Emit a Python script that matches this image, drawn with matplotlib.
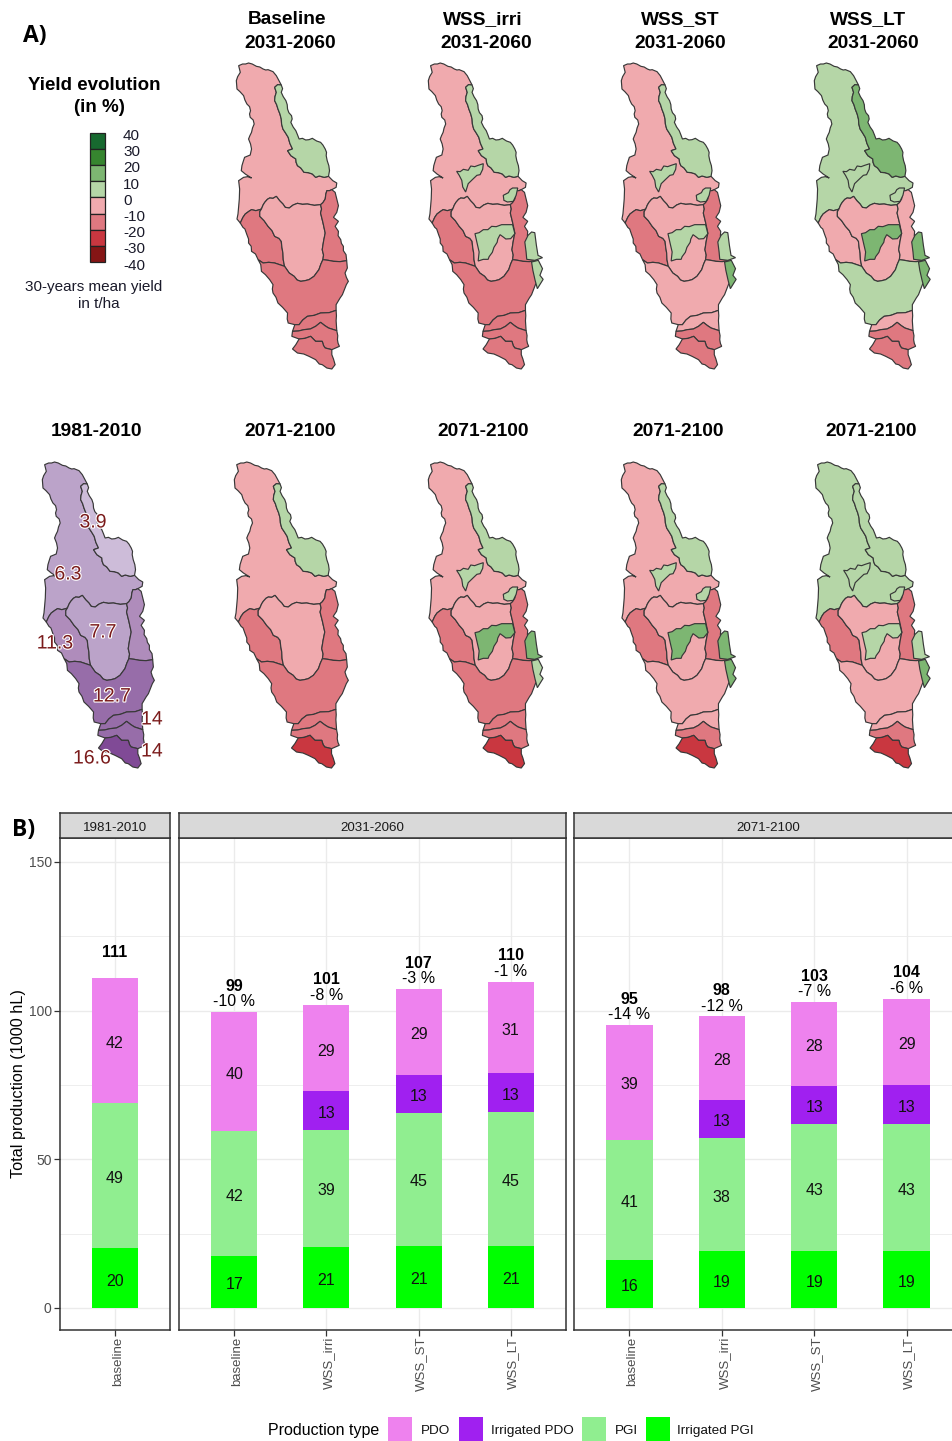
import matplotlib
matplotlib.use("Agg")
import matplotlib.pyplot as plt
import matplotlib.patheffects as pe
from matplotlib.patches import Polygon, Rectangle
from matplotlib.transforms import ScaledTranslation
import numpy as np

plt.rcParams["font.family"] = ["Liberation Sans", "DejaVu Sans"]

W, H = 952, 1441

# ---- bar chart data (1000 hL) ----
types = ["PDO", "Irrigated PDO", "PGI", "Irrigated PGI"]
type_colors = ["#EE82EE", "#A020F0", "#90EE90", "#00FF00"]

periods = ["1981-2010", "2031-2060", "2071-2100"]
scen_hist = ["baseline"]
scen_fut = ["baseline", "WSS_irri", "WSS_ST", "WSS_LT"]

irr_pgi_hist = [20]
pgi_hist = [49]
irr_pdo_hist = [0]
pdo_hist = [42]
total_hist = [111]

irr_pgi_2031 = [17.4, 20.6, 21, 21]
pgi_2031 = [42, 39.4, 44.7, 45]
irr_pdo_2031 = [0, 12.8, 12.6, 13]
pdo_2031 = [40, 28.9, 29, 30.7]
total_2031 = [99, 101, 107, 110]
pct_2031 = [-10, -8, -3, -1]

irr_pgi_2071 = [16, 19, 19, 19]
pgi_2071 = [40.6, 38, 43, 43]
irr_pdo_2071 = [0, 13, 12.6, 13]
pdo_2071 = [38.6, 28, 28.2, 29]
total_2071 = [95, 98, 103, 104]
pct_2071 = [-14, -12, -7, -6]

# ---- map data: catchment borders, shared between neighbouring zones ----
b_ne_outer = [(983,467),(986,450),(984,435),(979,420),(976,405),(977,395),(973,385),(966,373),(959,365),(947,361),(934,353),(924,357),(914,358),(904,353),(894,355),(889,342),(884,330),(876,319),(869,305),(873,295),(871,285),(863,276),(859,265),(858,252),(854,240),(846,228),(840,215),(844,204),(840,193)]
b_ne_west = [(840,193),(829,192),(820,200),(825,215),(821,228),(820,240),(826,252),(830,265),(836,280),(840,295),(841,310),(845,325),(853,337),(861,350),(866,368),(874,385),(859,390),(869,405),(884,415),(885,425),(889,435),(899,442),(909,455),(922,456),(934,460),(944,470),(955,466),(970,470),(983,467)]
b_north_outer = [(840,193),(832,178),(825,165),(815,153),(800,147),(793,148),(785,145),(775,139),(765,137),(752,130),(741,127),(732,130),(723,130),(711,135),(716,155),(708,168),(704,180),(706,205),(715,213),(726,225),(730,238),(736,250),(744,258),(747,270),(744,280),(746,290),(755,298),(758,310),(753,322),(750,335),(745,345),(741,355),(747,370),(750,385),(746,403),(729,410),(725,422),(721,435),(719,450),(731,460),(750,472),(738,468),(726,470),(711,480),(714,505),(713,535),(711,558),(709,580),(706,595),(716,607)]
b_north_west = [(716,607),(724,590),(731,580),(742,572),(750,567),(763,570),(775,567),(780,565)]
b_center_top = [(780,565),(785,553),(790,545),(798,536),(805,532),(815,533),(825,527),(835,540),(845,550),(852,560),(864,562),(876,553),(889,548),(904,551),(919,550),(940,554),(959,552)]
b_east_top = [(959,552),(966,546),(973,535),(975,520),(978,510),(986,510),(993,507)]
b_tip = [(993,507),(1006,500),(1008,487),(996,480),(983,467)]
b_west_outer = [(716,607),(724,620),(730,625),(736,642),(741,655),(741,667),(749,677),(750,692),(762,700),(770,717)]
b_west_center = [(780,565),(775,573),(775,587),(788,600),(800,617),(812,630),(820,647),(833,653),(840,662),(842,680),(845,697),(846,717),(850,737)]
b_west_south = [(770,717),(785,727),(802,725),(820,727),(835,732),(850,737)]
b_center_south = [(850,737),(864,757),(879,767),(888,778),(899,782),(912,780),(924,777),(939,767),(954,747),(960,730),(966,717)]
b_center_east = [(959,552),(962,565),(959,577),(966,605),(973,637),(968,662),(964,687),(968,703),(966,717)]
b_east_south = [(966,717),(982,719),(998,722),(1018,723),(1038,720)]
b_east_outer = [(1038,720),(1036,702),(1028,690),(1028,677),(1022,668),(1020,657),(1012,645),(1013,632),(1003,617),(1013,602),(998,590),(1008,575),(1013,555),(1008,535),(1003,515),(993,507)]
b_south_outer_w = [(770,717),(778,732),(780,752),(792,762),(805,777),(815,792),(813,805),(815,817),(824,830),(830,847),(844,860),(859,877),(858,895),(861,907)]
b_south_lower = [(861,907),(881,912)]
b_south_outer_e = [(1006,869),(1006,852),(1018,832),(1025,822),(1033,802),(1037,792),(1043,782),(1037,770),(1033,757),(1040,742),(1038,720)]
b_south_b1 = [(881,912),(894,912),(905,898),(919,887),(940,884),(959,877),(985,876),(1006,869)]
b_b1_w = [(881,912),(874,932)]
b_b1_e = [(1008,930),(1007,915),(1006,900),(1007,885),(1006,869)]
b_b1_b2 = [(874,932),(892,931),(909,927),(928,925),(944,917),(959,905),(972,915),(983,922),(1008,930)]
b_b2_w = [(874,932),(872,947),(894,955)]
b_b2_e = [(993,987),(1016,977),(1012,968),(1010,957),(1011,945),(1008,930)]
b_b2_bottom = [(894,955),(912,953),(929,947),(944,962),(964,962),(968,975),(973,982),(993,987)]
b_bottom_outer = [(894,955),(884,972),(874,985),(889,997),(908,1000),(924,1007),(944,1017),(955,1030),(964,1032),(978,1042),(993,1045),(1003,1032),(998,1015),(993,1002),(993,987)]


def ring(*parts):
    pts = []
    for p in parts:
        pts += p
    return pts


def rev(p):
    return p[::-1]


zones = {
    "north": ring(b_north_outer, b_north_west, b_center_top, b_east_top, b_tip, rev(b_ne_west)),
    "ne": ring(b_ne_west, b_ne_outer),
    "west": ring(b_west_outer, b_west_south, rev(b_west_center), rev(b_north_west)),
    "center": ring(b_center_top, b_center_east, rev(b_center_south), rev(b_west_center)),
    "east": ring(b_center_east, b_east_south, b_east_outer, rev(b_east_top)),
    "south": ring(b_south_outer_w, b_south_lower, b_south_b1, b_south_outer_e, rev(b_east_south), rev(b_center_south), rev(b_west_south)),
    "b1": ring(b_south_b1, rev(b_b1_e), rev(b_b1_b2), rev(b_b1_w)),
    "b2": ring(b_b1_b2, rev(b_b2_e), rev(b_b2_bottom), rev(b_b2_w)),
    "bottom": ring(b_bottom_outer, rev(b_b2_bottom)),
}
zone_names = list(zones)

# irrigated sub-zones, only drawn in the WSS panels
patches = {
    "A": [(792,452),(803,453),(813,446),(828,449),(836,436),(848,438),(859,434),(875,429),(873,446),(865,462),(855,464),(844,474),(828,489),(820,514),(811,499),(808,479),(800,464)],
    "B": [(937,524),(953,516),(958,507),(966,502),(982,502),(977,524),(968,542),(950,544),(939,539)],
    "C": [(849,639),(862,636),(875,627),(889,627),(901,617),(915,618),(932,612),(966,612),(973,639),(960,654),(945,655),(937,649),(927,642),(920,655),(918,665),(908,680),(903,695),(893,708),(890,716),(875,716),(859,721),(862,694),(856,669)],
    "D": [(1004,664),(1014,644),(1025,634),(1035,636),(1040,674),(1045,704),(1059,711),(1035,719),(1010,716),(1008,694)],
    "E": [(1025,724),(1046,719),(1059,744),(1051,764),(1061,776),(1043,804),(1036,779),(1029,749)],
}
patch_names = list(patches)

# yield change classes in % (class centre) per zone: north ne west center east south b1 b2 bottom
base_31 = [-5, 5, -15, -5, -15, -15, -15, -15, -15]
irri_31 = [-5, 5, -15, -5, -15, -15, -15, -15, -15]
st_31 = [-5, 5, -15, -5, -15, -5, -5, -15, -15]
lt_31 = [5, 15, -5, -5, -5, 5, -5, -15, -15]
base_71 = [-5, 5, -15, -5, -15, -15, -15, -15, -25]
irri_71 = [-5, 5, -15, -5, -15, -15, -15, -15, -25]
st_71 = [-5, 5, -15, -5, -15, -5, -5, -15, -25]
lt_71 = [5, 5, -15, -5, -15, -5, -5, -15, -25]

# same classes for sub-zones A B C D E
irri_31_p = [5, 5, 5, 5, 5]
st_31_p = [5, 5, 5, 5, 15]
lt_31_p = [5, 5, 15, 15, 15]
irri_71_p = [5, 5, 15, 15, 5]
st_71_p = [5, 5, 15, 15, 15]
lt_71_p = [5, 5, 5, 5, 15]

# observed yield 1981-2010, t/ha
yield_colors = ["#BBA3C9", "#CDBCD9", "#AF8CBB", "#BBA3C9", "#AF8CBB", "#976DA9", "#976DA9", "#976DA9", "#804A96"]
yield_labels = ["3.9", "6.3", "11.3", "7.7", "12.7", "14", "14", "16.6"]
yield_label_x = [93, 68, 55, 103, 112, 152, 152, 92]
yield_label_y = [521, 573, 642, 631, 695, 718, 750, 757]

class_levels = [35, 25, 15, 5, -5, -15, -25, -35]
class_colors = ["#17692F", "#36852F", "#7DB672", "#B5D6A7", "#F0AAAE", "#DF7880", "#C93740", "#851515"]
color_of = dict(zip(class_levels, class_colors))
scale_ticks = [40, 30, 20, 10, 0, -10, -20, -30, -40]

titles_top = ["Baseline\n2031-2060", "WSS_irri\n2031-2060", "WSS_ST\n2031-2060", "WSS_LT\n2031-2060"]
titles_bottom = ["1981-2010", "2071-2100", "2071-2100", "2071-2100", "2071-2100"]


def px_axes(fig, left, top, right, bottom):
    return fig.add_axes([left / W, 1 - bottom / H, (right - left) / W, (bottom - top) / H])


fig = plt.figure(figsize=(W / 100, H / 100), dpi=100)


def draw_map(left, right, top, colors, patch_colors=None):
    ax = px_axes(fig, left, top, right, top + 306)
    ax.set_xlim(703, 1045)
    ax.set_ylim(1045, 127)
    ax.axis("off")
    for name, c in zip(zone_names, colors):
        ax.add_patch(Polygon(zones[name], closed=True, fc=c, ec="#383838", lw=0.85, clip_on=False))
    if patch_colors is not None:
        for name, c in zip(patch_names, patch_colors):
            ax.add_patch(Polygon(patches[name], closed=True, fc=c, ec="#383838", lw=0.85, clip_on=False))


def classes(levels):
    return [color_of[v] for v in levels]


draw_map(236, 349, 63, classes(base_31))
draw_map(428, 538, 63, classes(irri_31), classes(irri_31_p))
draw_map(621, 731, 63, classes(st_31), classes(st_31_p))
draw_map(814, 925, 63, classes(lt_31), classes(lt_31_p))
draw_map(42, 155, 462, yield_colors)
draw_map(234, 349, 462, classes(base_71))
draw_map(428, 538, 462, classes(irri_71), classes(irri_71_p))
draw_map(621, 731, 462, classes(st_71), classes(st_71_p))
draw_map(815, 925, 462, classes(lt_71), classes(lt_71_p))


def draw_panel(left, right, scen, irr_pgi, pgi, irr_pdo, pdo, total, pct, period, first=False):
    ax = px_axes(fig, left, 838, right, 1330)
    x = np.arange(1, len(scen) + 1)
    ax.set_xlim(0.4, len(scen) + 0.6)
    ax.set_ylim(-7.4, 158)
    ax.set_axisbelow(True)
    ax.set_yticks([0, 50, 100, 150])
    ax.set_yticks([25, 75, 125], minor=True)
    ax.grid(True, which="major", color="#EBEBEB", lw=1.0)
    ax.grid(True, which="minor", axis="y", color="#EBEBEB", lw=0.6)
    ax.tick_params(which="minor", length=0)
    ax.set_xticks(x)
    ax.set_xticklabels(scen, rotation=90, fontsize=9.5, color="#4D4D4D")
    ax.tick_params(axis="x", color="#333333", length=4, width=0.9, pad=1)
    shift = ScaledTranslation(2 / 72, 0, fig.dpi_scale_trans)
    for lab in ax.get_xticklabels():
        lab.set_transform(lab.get_transform() + shift)
    if first:
        ax.tick_params(axis="y", labelsize=10, labelcolor="#4D4D4D", color="#333333", length=4, width=0.9, pad=2)
        ax.set_ylabel("Total production (1000 hL)", fontsize=11.7, labelpad=2)
    else:
        ax.tick_params(axis="y", length=0, labelleft=False)
    for s in ax.spines.values():
        s.set_color("#333333")
        s.set_linewidth(1.1)

    bottom = np.zeros(len(scen))
    for vals, col in zip([irr_pgi, pgi, irr_pdo, pdo], type_colors[::-1]):
        vals = np.array(vals, dtype=float)
        ax.bar(x, vals, 0.5, bottom=bottom, color=col)
        for xi, b, v in zip(x, bottom, vals):
            if v > 0:
                ax.annotate(f"{v:.0f}", (xi, b + v / 2), xytext=(0, -2), textcoords="offset points",
                            ha="center", va="center", fontsize=11.5, color="#111111")
        bottom += vals

    for i, xi in enumerate(x):
        if pct is None:
            ax.annotate(f"{total[i]}", (xi, bottom[i]), xytext=(0, 18), textcoords="offset points",
                        ha="center", va="center", fontsize=11.5, fontweight="bold")
        else:
            ax.annotate(f"{total[i]}", (xi, bottom[i]), xytext=(0, 18.5), textcoords="offset points",
                        ha="center", va="center", fontsize=11.5, fontweight="bold")
            ax.annotate(f"{pct[i]} %", (xi, bottom[i]), xytext=(0, 7.5), textcoords="offset points",
                        ha="center", va="center", fontsize=11.5)

    st = px_axes(fig, left, 813, right, 838)
    st.set_facecolor("#D9D9D9")
    st.set_xticks([])
    st.set_yticks([])
    for s in st.spines.values():
        s.set_color("#333333")
        s.set_linewidth(1.1)
    st.text(0.5, 0.40, period, transform=st.transAxes, ha="center", va="center", fontsize=9.6, color="#1A1A1A")


draw_panel(60, 170, scen_hist, irr_pgi_hist, pgi_hist, irr_pdo_hist, pdo_hist, total_hist, None, periods[0], first=True)
draw_panel(179, 566, scen_fut, irr_pgi_2031, pgi_2031, irr_pdo_2031, pdo_2031, total_2031, pct_2031, periods[1])
draw_panel(574, 962, scen_fut, irr_pgi_2071, pgi_2071, irr_pdo_2071, pdo_2071, total_2071, pct_2071, periods[2])

# overlay in pixels for titles and legends
ov = fig.add_axes([0, 0, 1, 1])
ov.set_xlim(0, W)
ov.set_ylim(H, 0)
ov.axis("off")
ov.patch.set_alpha(0)

ov.text(35, 36, "A)", fontsize=16.5, fontweight="bold", family="Open Sans", ha="center", va="center")
ov.text(24, 830, "B)", fontsize=16.5, fontweight="bold", family="Open Sans", ha="center", va="center")

for t, xc in zip(titles_top, [287, 483, 680, 868]):
    a, b = t.split("\n")
    ov.text(xc, 20, a, fontsize=13.8, fontweight="bold", ha="center", va="center")
for t, xc in zip(titles_top, [290, 486, 680, 873]):
    a, b = t.split("\n")
    ov.text(xc, 44, b, fontsize=13.8, fontweight="bold", ha="center", va="center")
for t, xc in zip(titles_bottom, [97, 290, 483, 678, 871]):
    ov.text(xc, 431, t, fontsize=13.8, fontweight="bold", ha="center", va="center")

ov.text(94, 86, "Yield evolution", fontsize=13.5, fontweight="bold", ha="center", va="center")
ov.text(99, 108, "(in %)", fontsize=13.5, fontweight="bold", ha="center", va="center")
for i, lev in enumerate(class_levels):
    ov.add_patch(Rectangle((90, 133 + i * 16.1), 15, 16.1, fc=color_of[lev], ec="#222222", lw=0.9))
for i, tick in enumerate(scale_ticks):
    ov.text(123, 136 + i * 16.2, str(tick), fontsize=11, ha="left", va="center", color="#1A1A2A")
ov.text(94, 287, "30-years mean yield", fontsize=11, ha="center", va="center", color="#1A1A2A")
ov.text(99, 304, "in t/ha", fontsize=11, ha="center", va="center", color="#1A1A2A")

for s, xt, yt in zip(yield_labels, yield_label_x, yield_label_y):
    ov.text(xt, yt + 2, s, fontsize=14, ha="center", va="center", color="#7A1A1A",
            path_effects=[pe.withStroke(linewidth=1.6, foreground="white")])

# legend
ov.text(324, 1431, "Production type", fontsize=11.5, ha="center", va="center")
key_x = [388, 459, 582, 646]
label_x = [421, 491, 615, 677]
for name, col, kx, lx in zip(types, type_colors, key_x, label_x):
    ov.add_patch(Rectangle((kx, 1417), 24, 24, fc=col, ec="none"))
    ov.text(lx, 1431, name, fontsize=9.7, ha="left", va="center", color="#111111")

fig.savefig("out.png", dpi=100)
